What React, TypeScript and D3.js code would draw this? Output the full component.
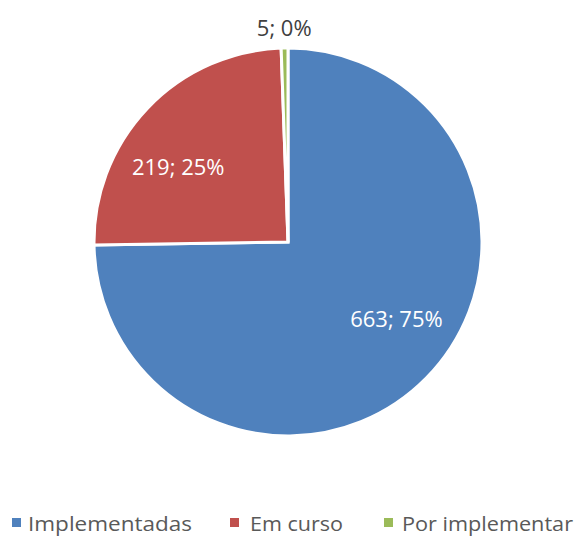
import React from "react";
import * as d3 from "d3";

const categories = ["Implementadas", "Em curso", "Por implementar"];
const values = [663, 219, 5];
const percents = ["75%", "25%", "0%"];
const colors = ["#4F81BD", "#C0504D", "#9BBB59"];

export default function App() {
  const width = 579, height = 536;
  const cx = 288, cy = 242, r = 194;
  const pie = d3.pie<number>().sort(null).value((d) => d)(values);
  const arc = d3.arc<d3.PieArcDatum<number>>().innerRadius(0).outerRadius(r);
  const inArc = d3.arc<any>().innerRadius(133).outerRadius(133);
  const outArc = d3.arc<any>().innerRadius(214).outerRadius(214);
  const font = "'Open Sans', 'Noto Sans', sans-serif";
  const legendSq = [12, 230, 384];
  const legendTx = [28, 250, 402];
  const legendW = [164, 93, 171];
  const off = -0.16;
  return (
    <svg width={width} height={height} style={{ position: "absolute", left: 0, top: 0 }}>
      <g transform={`translate(${cx},${cy})`}>
        {pie.map((p, i) => (
          <path key={i} d={arc(p) || ""} fill={colors[i]} stroke="#fff" strokeWidth={3} strokeLinejoin="miter" />
        ))}
        {pie.map((p, i) => {
          const outside = i === 2;
          const a = outside
            ? { startAngle: p.startAngle, endAngle: p.endAngle }
            : { startAngle: p.startAngle + off, endAngle: p.endAngle + off };
          const [x, y] = (outside ? outArc : inArc).centroid(a as any);
          return (
            <text key={i} x={x} y={y} dy="0.35em" textAnchor="middle" fontFamily={font} fontSize={22}
              fill={outside ? "#404040" : "#fff"}>
              {`${values[i]}; ${percents[i]}`}
            </text>
          );
        })}
      </g>
      {categories.map((c, i) => (
        <g key={c}>
          <rect x={legendSq[i]} y={518} width={9} height={9} fill={colors[i]} />
          <text x={legendTx[i]} y={531} fontFamily={font} fontSize={20} fill="#595959"
            textLength={legendW[i]} lengthAdjust="spacingAndGlyphs">{c}</text>
        </g>
      ))}
    </svg>
  );
}
